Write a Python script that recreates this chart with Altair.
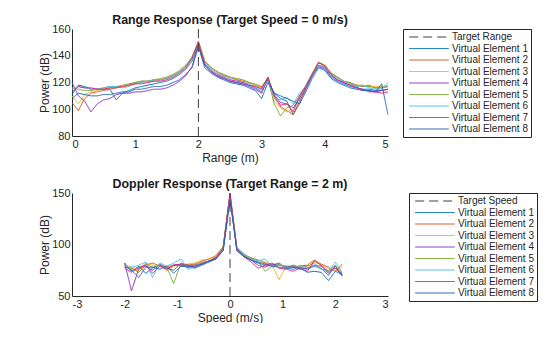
import altair as alt
import pandas as pd

# ---------------- data ----------------
range_m = [0.0, 0.1, 0.2, 0.3, 0.4, 0.5, 0.6, 0.7, 0.8, 0.9,
           1.0, 1.1, 1.2, 1.3, 1.4, 1.5, 1.6, 1.7, 1.8, 1.9,
           2.0, 2.1, 2.2, 2.3, 2.4, 2.5, 2.6, 2.7, 2.8, 2.9,
           3.0, 3.1, 3.2, 3.3, 3.4, 3.5, 3.6, 3.7, 3.8, 3.9,
           4.0, 4.1, 4.2, 4.3, 4.4, 4.5, 4.6, 4.7, 4.8, 4.9, 5.0]

rng_ve1 = [111, 118, 117, 115, 115, 115, 115, 107, 112, 114, 116, 117, 118, 119, 120, 121, 123, 126, 130, 136,
           148, 133, 128, 125, 123, 121, 120, 119, 118, 116, 113, 122, 112, 108, 106, 96, 106, 115, 125, 132,
           130, 124, 121, 119, 117, 116, 115, 115, 114, 114, 115]
rng_ve2 = [105, 99, 108, 112, 113, 114, 115, 116, 117, 118, 120, 121, 121, 122, 122, 123, 125, 128, 132, 139,
           151, 136, 131, 128, 125, 124, 122, 121, 120, 118, 116, 124, 109, 102, 99, 96, 104, 116, 126, 135,
           133, 127, 124, 121, 119, 118, 117, 118, 116, 116, 117]
rng_ve3 = [110, 104, 111, 113, 114, 115, 116, 117, 117, 118, 119, 120, 121, 121, 122, 124, 126, 128, 132, 139,
           150, 136, 131, 128, 126, 124, 123, 122, 120, 118, 117, 123, 106, 101, 98, 100, 108, 117, 126, 135,
           133, 127, 124, 121, 120, 118, 118, 117, 117, 117, 118]
rng_ve4 = [120, 110, 106, 98, 104, 107, 108, 111, 112, 112, 113, 113, 114, 115, 115, 116, 118, 121, 125, 132,
           148, 133, 128, 125, 123, 121, 120, 119, 117, 115, 112, 123, 111, 105, 104, 101, 108, 116, 125, 133,
           131, 125, 122, 120, 118, 117, 114, 114, 113, 114, 115]
rng_ve5 = [116, 115, 114, 114, 115, 116, 117, 117, 118, 119, 120, 121, 121, 122, 123, 124, 126, 129, 133, 139,
           150, 136, 131, 128, 126, 124, 123, 122, 120, 119, 117, 123, 104, 95, 101, 103, 110, 118, 127, 135,
           133, 127, 124, 121, 120, 118, 117, 117, 116, 116, 117]
rng_ve6 = [115, 117, 116, 115, 115, 116, 117, 117, 116, 117, 119, 120, 121, 122, 122, 123, 125, 128, 132, 138,
           149, 135, 130, 127, 125, 123, 122, 120, 119, 117, 115, 121, 109, 107, 109, 104, 112, 117, 126, 133,
           132, 126, 123, 121, 119, 117, 118, 116, 115, 115, 120]
rng_ve7 = [113, 117, 116, 116, 115, 115, 116, 116, 117, 118, 119, 119, 120, 121, 121, 122, 124, 127, 131, 138,
           150, 134, 129, 126, 124, 122, 121, 120, 118, 117, 115, 124, 110, 103, 104, 98, 110, 117, 126, 135,
           132, 126, 122, 120, 118, 116, 115, 113, 113, 112, 113]
rng_ve8 = [108, 112, 111, 110, 110, 111, 111, 112, 113, 113, 115, 115, 116, 117, 117, 118, 120, 122, 126, 131,
           147, 131, 127, 124, 122, 120, 119, 118, 116, 114, 108, 120, 112, 110, 108, 106, 104, 113, 123, 131,
           129, 123, 120, 118, 116, 115, 114, 114, 113, 119, 96]

speed_ms = [-2.0, -1.87, -1.73, -1.6, -1.47, -1.33, -1.2, -1.07, -0.93, -0.8, -0.67, -0.53, -0.4, -0.27, -0.13,
            0.0, 0.13, 0.27, 0.4, 0.53, 0.67, 0.8, 0.93, 1.07, 1.2, 1.33, 1.47, 1.6, 1.73, 1.87, 2.0, 2.13]

dop_ve1 = [82, 74, 79, 72, 77, 81, 77, 75, 82, 79, 77, 80, 83, 86, 94, 145, 94, 88, 85, 83, 81, 80, 82, 77, 76, 78, 76, 79, 77, 70, 79, 71]
dop_ve2 = [78, 77, 73, 80, 82, 79, 78, 80, 79, 80, 81, 84, 86, 89, 98, 150, 97, 90, 87, 85, 82, 79, 80, 79, 78, 79, 80, 85, 81, 78, 74, 81]
dop_ve3 = [80, 78, 76, 82, 80, 80, 74, 79, 80, 81, 82, 85, 86, 88, 97, 149, 96, 90, 86, 85, 83, 80, 66, 79, 80, 78, 78, 84, 80, 77, 75, 78]
dop_ve4 = [82, 55, 77, 79, 75, 80, 76, 80, 81, 78, 80, 82, 83, 86, 96, 148, 95, 89, 85, 80, 78, 81, 80, 78, 79, 76, 77, 80, 79, 74, 77, 70]
dop_ve5 = [80, 76, 75, 81, 78, 80, 78, 62, 82, 80, 79, 83, 84, 88, 97, 149, 96, 89, 87, 84, 74, 79, 81, 77, 80, 78, 79, 82, 76, 75, 80, 72]
dop_ve6 = [78, 78, 80, 83, 68, 82, 79, 82, 86, 76, 78, 81, 83, 87, 95, 147, 97, 91, 86, 84, 86, 78, 80, 79, 76, 80, 77, 80, 76, 73, 83, 73]
dop_ve7 = [77, 73, 78, 80, 72, 79, 76, 80, 80, 80, 78, 81, 84, 87, 96, 149, 94, 88, 83, 77, 80, 82, 77, 76, 74, 77, 74, 84, 80, 72, 79, 69]
dop_ve8 = [79, 75, 68, 78, 78, 76, 79, 72, 79, 78, 79, 81, 84, 86, 94, 143, 96, 88, 85, 82, 80, 79, 78, 77, 78, 77, 73, 74, 73, 65, 74, 71]

element_names = ["Virtual Element 1", "Virtual Element 2", "Virtual Element 3", "Virtual Element 4",
                 "Virtual Element 5", "Virtual Element 6", "Virtual Element 7", "Virtual Element 8"]
element_colors = ["#0072BD", "#D95319", "#EDB120", "#8B2FC9", "#77AC30", "#4DBEEE", "#E01B84", "#1F66B0"]
target_color = "#404040"

range_ticks = [0, 1, 2, 3, 4, 5]
power_ticks_top = [80, 100, 120, 140, 160]
speed_ticks = [-3, -2, -1, 0, 1, 2, 3]
power_ticks_bottom = [50, 100, 150]

TEXT = "#262626"
FONT = "Liberation Sans"


def panel(xs, series, target_name, target_x, xdom, xticks, ydom, yticks, xtitle, title, height, legx):
    rows = []
    for name, vals in zip(element_names, series):
        for x, v in zip(xs, vals):
            rows.append({"x": x, "y": v, "series": name})
    df = pd.DataFrame(rows)
    tgt = pd.DataFrame({"x": [target_x], "y": [ydom[0]], "y2": [ydom[1]], "series": [target_name]})

    domain = [target_name] + element_names
    legend = alt.Legend(
        orient="none", legendX=legx, legendY=0, title=None,
        symbolType="M-4.4,0H4.4", symbolSize=81, symbolStrokeWidth=1,
        labelFontSize=10, labelFont=FONT, labelColor=TEXT,
        strokeColor=TEXT, fillColor="white", padding=3, rowPadding=1.5,
        symbolOffset=18, labelOffset=18,
    )
    color = alt.Color("series:N", scale=alt.Scale(domain=domain, range=[target_color] + element_colors), legend=legend)
    dash = alt.StrokeDash("series:N", scale=alt.Scale(domain=domain, range=[[9, 5]] + [[1, 0]] * 8), legend=legend)

    xaxis = alt.Axis(values=xticks, title=xtitle, labelExpr="'' + datum.value", labelOverlap=False)
    yaxis = alt.Axis(values=yticks, title="Power (dB)", labelOverlap=False)
    xenc = alt.X("x:Q", scale=alt.Scale(domain=xdom, nice=False, zero=False), axis=xaxis)
    yenc = alt.Y("y:Q", scale=alt.Scale(domain=ydom, nice=False, zero=False), axis=yaxis)

    lines = alt.Chart(df).mark_line(strokeWidth=1).encode(x=xenc, y=yenc, color=color, strokeDash=dash)
    rule = alt.Chart(tgt).mark_rule(strokeWidth=1).encode(x=xenc, y=yenc, y2="y2:Q", color=color, strokeDash=dash)
    return alt.layer(lines, rule).properties(
        width=316, height=height,
        title=alt.TitleParams(title, fontSize=12.4, fontWeight="bold", font=FONT, color="#1a1a1a", offset=-3),
    )


top = panel(range_m, [rng_ve1, rng_ve2, rng_ve3, rng_ve4, rng_ve5, rng_ve6, rng_ve7, rng_ve8],
            "Target Range", 2.0, [0, 5], range_ticks, [80, 160], power_ticks_top,
            "Range (m)", "Range Response (Target Speed = 0 m/s)", 107, 331)
bottom = panel(speed_ms, [dop_ve1, dop_ve2, dop_ve3, dop_ve4, dop_ve5, dop_ve6, dop_ve7, dop_ve8],
               "Target Speed", 0.0, [-3, 3], speed_ticks, [50, 150], power_ticks_bottom,
               "Speed (m/s)", "Doppler Response (Target Range = 2 m)", 103, 337)

chart = alt.vconcat(top, bottom, spacing=14).resolve_scale(
    color="independent", strokeDash="independent"
).properties(
    padding={"left": 38, "top": 13, "right": 0, "bottom": 0},
    background="white",
).configure_view(strokeWidth=0).configure_axis(
    grid=False, ticks=False, domainColor=TEXT, domainWidth=1,
    labelColor=TEXT, labelFont=FONT, labelFontSize=11, labelPadding=2,
    titleColor=TEXT, titleFont=FONT, titleFontSize=12, titleFontWeight="normal",
).configure_axisX(titlePadding=3).configure_axisY(titlePadding=0)

chart.save("out.html", embed_options={"renderer": "svg", "actions": False})
